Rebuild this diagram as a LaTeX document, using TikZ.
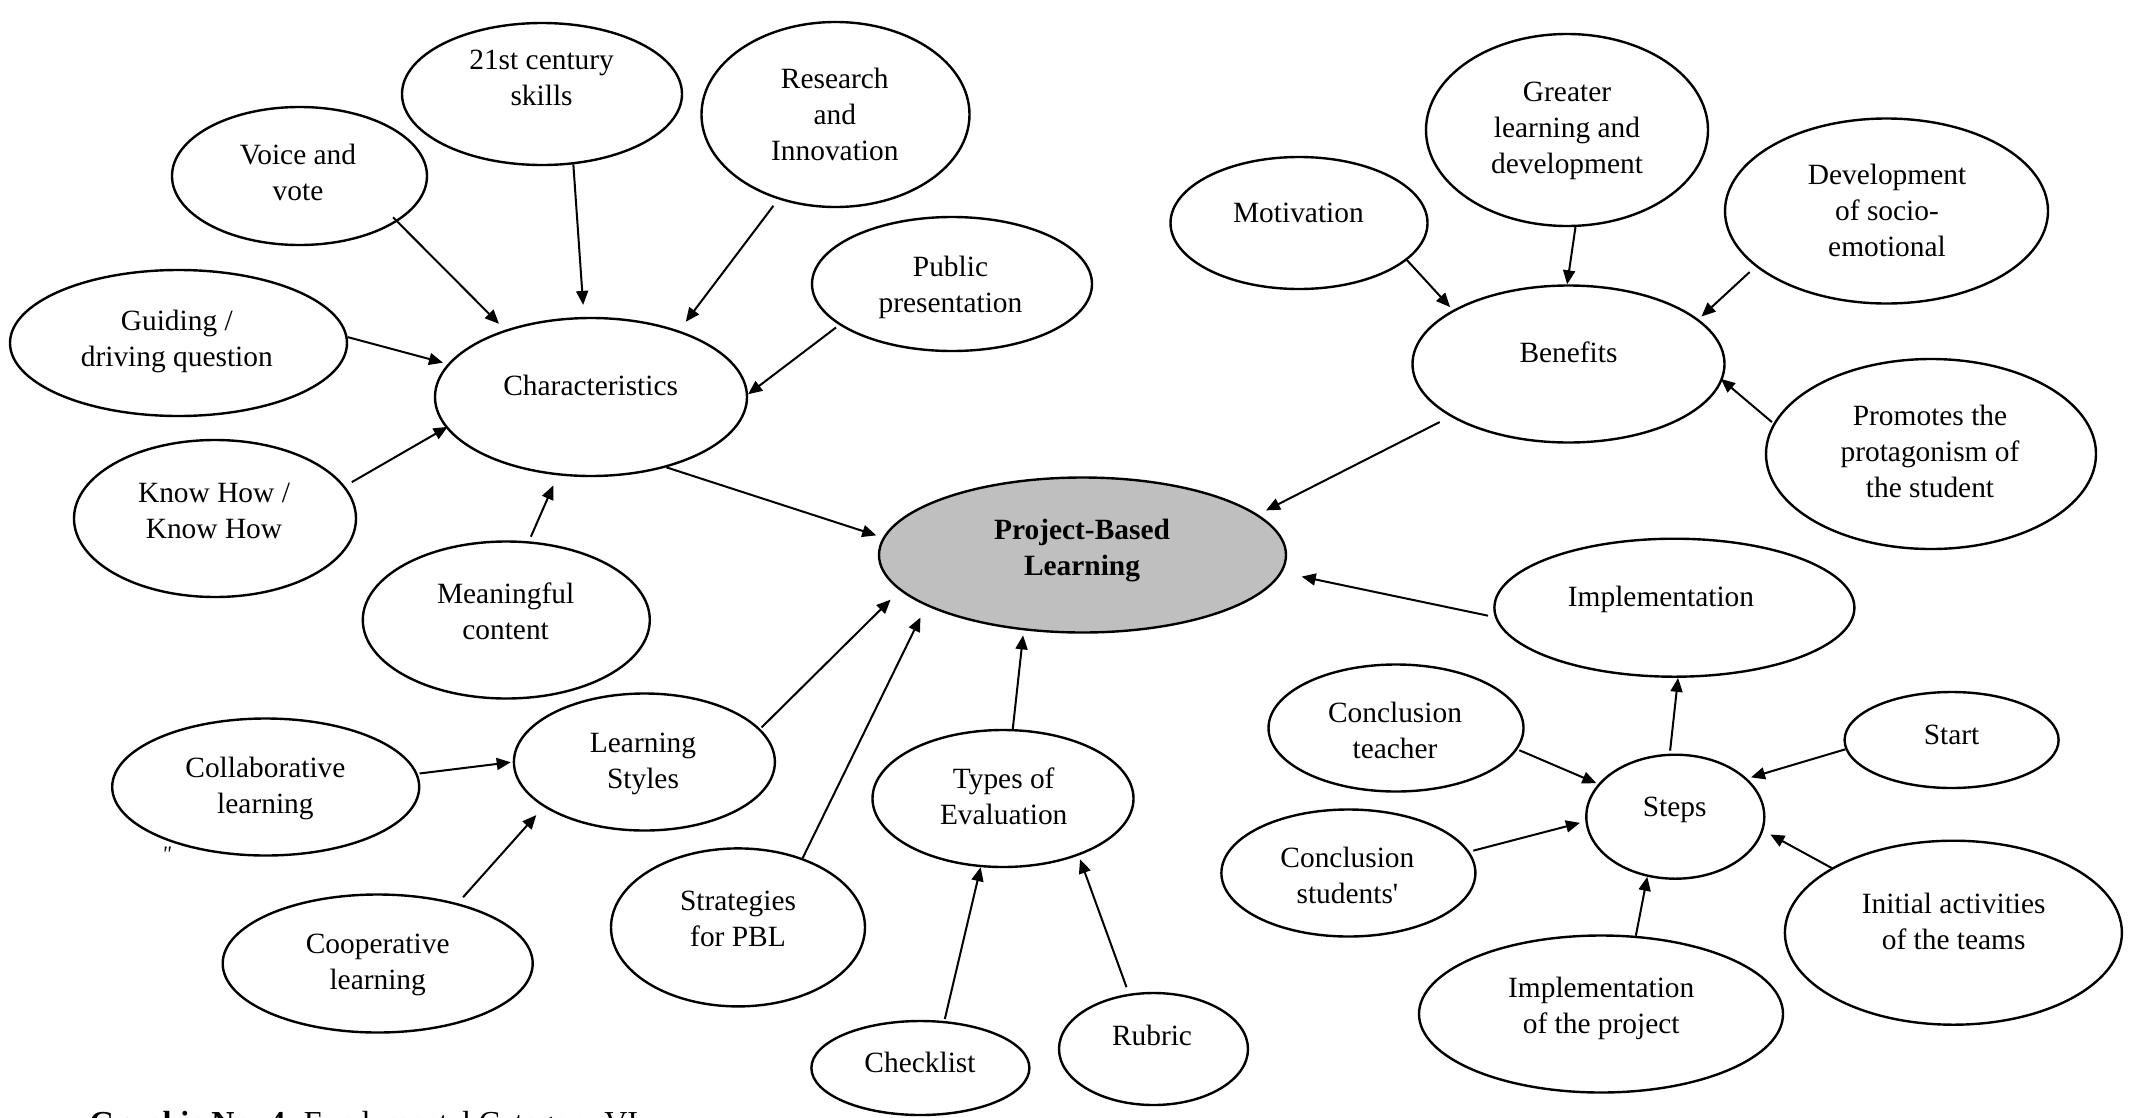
\documentclass[tikz,border=0pt]{standalone}
\usepackage{fontspec}
\setmainfont{Liberation Serif}[Ligatures=TeXOff]
\usetikzlibrary{arrows.meta,shapes.geometric}
\definecolor{pblgray}{RGB}{191,191,191}
\tikzset{
  bub/.style={draw=black, line width=2.4pt, ellipse, inner sep=0pt},
  txt/.style={align=center, inner sep=0pt, font=\fontsize{29.4}{36}\selectfont},
  arr/.style={line width=2pt, -{Triangle[length=14pt,width=12pt]}},
}
\begin{document}
\begin{tikzpicture}[x=1pt,y=-1pt]
\fill[white] (0,0) rectangle (2134,1117);
\useasboundingbox (0,0) rectangle (2134,1117);

% ---- left cluster ----
\node[bub, minimum width=255pt, minimum height=138pt] (voice) at (299.5,176) {};
\node[txt] (voice-t) at (298,175.7) {\strut Voice and\\\strut vote};
\node[bub, minimum width=280pt, minimum height=142pt] (cent) at (542,94) {};
\node[txt] (cent-t) at (541.6,80) {\strut 21st century\\\strut skills};
\node[bub, minimum width=268pt, minimum height=185pt] (res) at (835.5,114.5) {};
\node[txt] (res-t) at (834.8,117.5) {\strut Research\\\strut and\\\strut Innovation};
\node[bub, minimum width=280pt, minimum height=134pt] (pub) at (952,284) {};
\node[txt] (pub-t) at (950.5,287) {\strut Public\\\strut presentation};
\node[bub, minimum width=337pt, minimum height=146pt] (guid) at (178.5,343) {};
\node[txt] (guid-t) at (176.8,341.6) {\strut Guiding /\\\strut driving question};
\node[bub, minimum width=312pt, minimum height=158pt] (char) at (591,397) {};
\node[txt] (char-t) at (590.7,388.5) {\strut Characteristics};
\node[bub, minimum width=282pt, minimum height=157pt] (know) at (215,518.5) {};
\node[txt] (know-t) at (214,513) {\strut Know How /\\\strut Know How};
\node[bub, minimum width=287pt, minimum height=157pt] (mean) at (506.3,620) {};
\node[txt] (mean-t) at (505.6,614.4) {\strut Meaningful\\\strut content};

% ---- bottom left ----
\node[bub, minimum width=307pt, minimum height=137pt] (coll) at (265.7,787) {};
\node[txt] (coll-t) at (265.4,788.5) {\strut Collaborative\\\strut learning};
\node[bub, minimum width=261pt, minimum height=137pt] (ls) at (644.4,762) {};
\node[txt] (ls-t) at (643,762.8) {\strut Learning\\\strut Styles};
\node[bub, minimum width=310pt, minimum height=138pt] (coop) at (377.7,963.5) {};
\node[txt] (coop-t) at (377.7,964.7) {\strut Cooperative\\\strut learning};
\node[bub, minimum width=254pt, minimum height=158pt] (strat) at (738,927.4) {};
\node[txt] (strat-t) at (738,920.8) {\strut Strategies\\\strut for PBL};
\node[bub, minimum width=261pt, minimum height=137pt] (types) at (1003,798.5) {};
\node[txt] (types-t) at (1003.7,799.6) {\strut Types of\\\strut Evaluation};
\node[bub, minimum width=218pt, minimum height=94pt] (check) at (920.4,1068) {};
\node[txt] (check-t) at (920,1065.7) {\strut Checklist};
\node[bub, minimum width=189pt, minimum height=112pt] (rub) at (1153.5,1049) {};
\node[txt] (rub-t) at (1152,1038) {\strut Rubric};

% ---- centre ----
\node[bub, fill=pblgray, minimum width=407pt, minimum height=155pt] (pbl) at (1082.5,555) {};
\node[txt, font=\fontsize{29.4}{36}\selectfont\bfseries] (pbl-t) at (1082,549.8) {\strut Project-Based\\\strut Learning};

% ---- top right ----
\node[bub, minimum width=282pt, minimum height=192pt] (greater) at (1567,130) {};
\node[txt] (greater-t) at (1567,130.6) {\strut Greater\\\strut learning and\\\strut development};
\node[bub, minimum width=257pt, minimum height=132pt] (mot) at (1299,223) {};
\node[txt] (mot-t) at (1298.4,215.2) {\strut Motivation};
\node[bub, minimum width=323pt, minimum height=185pt] (dev) at (1886.5,211) {};
\node[txt] (dev-t) at (1887,213.7) {\strut Development\\\strut of socio-\\\strut emotional};
\node[bub, minimum width=312pt, minimum height=157pt] (ben) at (1568.5,364) {};
\node[txt] (ben-t) at (1568.5,355.6) {\strut Benefits};
\node[bub, minimum width=330pt, minimum height=190pt] (prom) at (1931,454) {};
\node[txt] (prom-t) at (1930,454) {\strut Promotes the\\\strut protagonism of\\\strut the student};

% ---- bottom right ----
\node[bub, minimum width=360pt, minimum height=138pt] (impl) at (1674.4,607.7) {};
\node[txt] (impl-t) at (1661,599.3) {\strut Implementation};
\node[bub, minimum width=255pt, minimum height=127pt] (ct) at (1396,728) {};
\node[txt] (ct-t) at (1395,733) {\strut Conclusion\\\strut teacher};
\node[bub, minimum width=214pt, minimum height=96pt] (start) at (1951.6,740) {};
\node[txt] (start-t) at (1951.6,736.8) {\strut Start};
\node[bub, minimum width=178pt, minimum height=124pt] (steps) at (1675.3,816.7) {};
\node[txt] (steps-t) at (1674.7,808.9) {\strut Steps};
\node[bub, minimum width=254pt, minimum height=127pt] (cs) at (1348.4,873) {};
\node[txt] (cs-t) at (1347.4,877.8) {\strut Conclusion\\\strut students'};
\node[bub, minimum width=337pt, minimum height=184pt] (ia) at (1953.4,932.7) {};
\node[txt] (ia-t) at (1953.7,924) {\strut Initial activities\\\strut of the teams};
\node[bub, minimum width=364pt, minimum height=157pt] (ip) at (1601,1014) {};
\node[txt] (ip-t) at (1601.2,1007.8) {\strut Implementation\\\strut of the project};

% ---- stray mark and caption (caption cut by the lower edge, as in the reference) ----
\node[anchor=base, inner sep=0pt, font=\fontsize{22}{26}\selectfont\itshape] (mark) at (166.5,861.6) {"};
\node[anchor=base west, inner sep=0pt, font=\fontsize{32}{38}\selectfont] (cap) at (89.5,1133) {\textbf{Graphic No. 4.} Fundamental Category VI};

% ---- connectors ----
\draw[arr, shorten <=-6pt, shorten >=8.6pt] (voice.-25.5) -- (char.142.6);
\draw[arr, shorten >=12pt] (cent.-66) -- (char.95.5);
\draw[arr, shorten <=8pt, shorten >=11pt] (res.-124.4) -- (char.37.5);
\draw[arr, shorten <=4pt] (pub.-160.9) -- (char.1.7);
\draw[arr, shorten >=5pt] (guid.2.4) -- (char.167.5);
\draw[arr, shorten <=8pt, shorten >=-2pt] (know.14.2) -- (char.-168.5);
\draw[arr, shorten <=5pt, shorten >=11pt] (mean.74.2) -- (char.-113.7);
\draw[arr, shorten >=7pt] (char.-43) -- (pbl.175.7);

\draw[arr, shorten >=4pt] (mot.-19.2) -- (ben.155.8);
\draw[arr] (greater.-85.8) -- (ben.91);
\draw[arr, shorten <=8pt, shorten >=4pt] (dev.-157) -- (ben.19.3);
\draw[arr, shorten <=2pt, shorten >=-2pt] (prom.169.7) -- (ben.-6.95);
\draw[arr, shorten <=12pt, shorten >=9pt] (ben.-156.7) -- (pbl.13.2);

\draw[arr, shorten <=7pt, shorten >=20pt] (impl.-177.5) -- (pbl.-5);
\draw[arr, shorten <=3pt] (steps.95.3) -- (impl.-87.5);
\draw[arr, shorten <=2pt, shorten >=2pt] (ct.-10.3) -- (steps.157);
\draw[arr, shorten >=4pt] (start.-175) -- (steps.28.3);
\draw[arr, shorten <=4pt, shorten >=5.6pt] (cs.10.9) -- (steps.-177.8);
\draw[arr, shorten <=-2pt, shorten >=8pt] (ia.152.9) -- (steps.-9.65);
\draw[arr] (ip.66.2) -- (steps.-115.3);

\draw[arr, shorten <=7pt, shorten >=4pt] (rub.114.1) -- (types.-37.8);
\draw[arr, shorten <=2pt] (check.63.3) -- (types.-108.95);
\draw[arr, shorten >=5pt] (types.82.1) -- (pbl.-128.4);

\draw[arr, shorten <=2pt, shorten >=2pt] (coll.5.2) -- (ls.180);
\draw[arr, shorten <=8pt, shorten >=11pt] (coop.37.1) -- (ls.-156.9);
\draw[arr, shorten <=2pt, shorten >=13pt] (ls.16.3) -- (pbl.-169);
\draw[arr, shorten >=13pt] (strat.47.3) -- (pbl.-162.1);
\end{tikzpicture}
\end{document}
